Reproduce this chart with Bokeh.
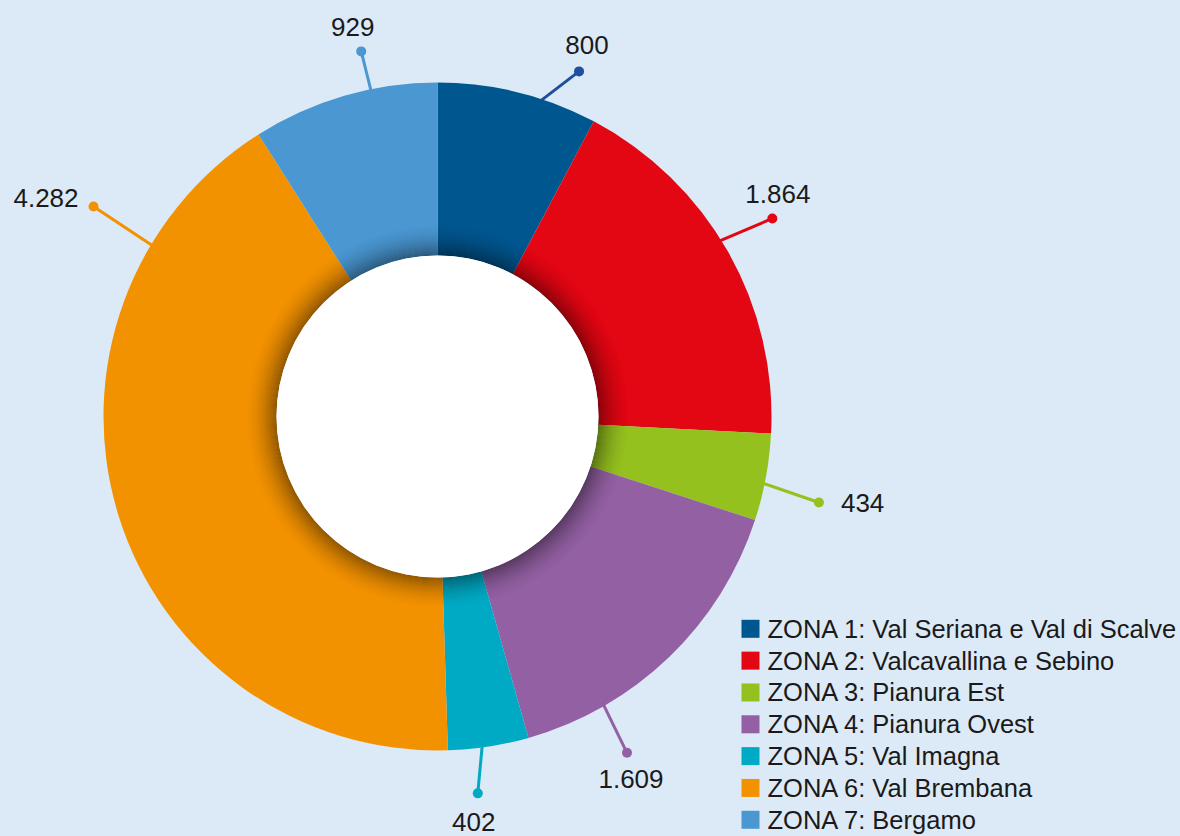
import math
from bokeh.plotting import figure
from bokeh.models import Range1d, ColumnDataSource
from bokeh.core.properties import value
from bokeh.embed import file_html
from bokeh.resources import INLINE

# ---------------- data ----------------
zones = [
    "ZONA 1: Val Seriana e Val di Scalve",
    "ZONA 2: Valcavallina e Sebino",
    "ZONA 3: Pianura Est",
    "ZONA 4: Pianura Ovest",
    "ZONA 5: Val Imagna",
    "ZONA 6: Val Brembana",
    "ZONA 7: Bergamo",
]
counts = [800, 1864, 434, 1609, 402, 4282, 929]

# ---------------- styles ----------------
colors = ["#00568f", "#e30613", "#95c11f", "#9360a3", "#00aac4", "#f39200", "#4a97d2"]
leader_colors = ["#1f4e9e", "#e30613", "#95c11f", "#9360a3", "#00aac4", "#f39200", "#4a97d2"]
BG = "#dce9f6"
TXT = "#1a1a1a"
FONT = "Liberation Sans"

# page pixel geometry (figure maps 1 data unit = 1 screen px, y up)
W, H = 1180, 836
CX, CY = 437, H - 416
R_OUT, R_IN = 334, 161

# leader placement (degrees clockwise from 12 o'clock) and dot distance
lead_start_deg = [17.6, 58.0, 101.5, 150.0, 172.1, 300.9, 348.5]
lead_end_deg = [22.3, 59.4, 102.7, 150.6, 173.9, 301.4, 348.2]
dot_r = [373, 389, 391, 386, 379, 403, 373]
# label offsets from dot (screen px, y down) and alignment
lab_dx = [8, 5.5, 22, 4, -4, -15, -8.5]
lab_dy = [-26.5, -24, 0.5, 26, 28.5, -8.5, -24.5]
lab_align = ["center", "center", "left", "center", "center", "right", "center"]

p = figure(width=W, height=H, output_backend="svg", toolbar_location=None,
           x_range=Range1d(0, W), y_range=Range1d(0, H),
           min_border=0, background_fill_color=BG, border_fill_color=BG,
           outline_line_color=None)
p.axis.visible = False
p.grid.visible = False

total = sum(counts)
starts, ends = [], []
acc = 0
for c in counts:
    t0 = acc / total * 2 * math.pi
    acc += c
    t1 = acc / total * 2 * math.pi
    starts.append(math.pi / 2 - t0)
    ends.append(math.pi / 2 - t1)

def polar(deg, r):
    a = math.radians(deg)
    return CX + r * math.sin(a), CY + r * math.cos(a)

# leader lines (beneath wedges)
for i in range(len(counts)):
    x0, y0 = polar(lead_start_deg[i], R_OUT - 6)
    x1, y1 = polar(lead_end_deg[i], dot_r[i])
    p.line([x0, x1], [y0, y1], line_color=leader_colors[i], line_width=3)

src = ColumnDataSource(dict(start=starts, end=ends, color=colors))
p.annular_wedge(x=CX, y=CY, inner_radius=R_IN, outer_radius=R_OUT,
                start_angle="start", end_angle="end", direction="clock",
                fill_color="color", line_color=None, source=src)

# soft inner shadow around the hole
N = 34
for k in range(N):
    a = 0.42 * (1 - k / N) ** 2
    p.annulus(x=CX, y=CY, inner_radius=R_IN + k, outer_radius=R_IN + k + 1,
              fill_color="black", fill_alpha=a, line_color=None)

p.circle(x=CX, y=CY, radius=R_IN, fill_color="white", line_color=None)

# dots and value labels
dx_, dy_ = [], []
tx, ty, tl, ta = [], [], [], []
for i, c in enumerate(counts):
    x1, y1 = polar(lead_end_deg[i], dot_r[i])
    dx_.append(x1); dy_.append(y1)
    tx.append(x1 + lab_dx[i]); ty.append(y1 - lab_dy[i])
    tl.append(f"{c:,}".replace(",", "."))
    ta.append(lab_align[i])
p.scatter(dx_, dy_, size=10, fill_color=leader_colors, line_color=None)
p.text(x="x", y="y", text="t", text_align="a",
       source=ColumnDataSource(dict(x=tx, y=ty, t=tl, a=ta)),
       text_baseline="middle", text_font=value(FONT),
       text_font_size=value("26px"), text_color=TXT)

# legend
LX, LY0, LSTEP = 750, 628.3, 31.83
ly = [H - (LY0 + i * LSTEP) for i in range(len(zones))]
p.rect(x=[LX] * len(zones), y=ly, width=18, height=18, fill_color=colors, line_color=None)
p.text(x=[LX + 17] * len(zones), y=ly, text=zones, text_baseline="middle",
       text_align="left", text_font=value(FONT), text_font_size=value("25.5px"),
       text_color=TXT)

html = file_html(p, INLINE)
html = html.replace("</head>",
                    "<style>html,body{background-color:%s;overflow:hidden;}</style></head>" % BG, 1)
open("out.html", "w").write(html)
